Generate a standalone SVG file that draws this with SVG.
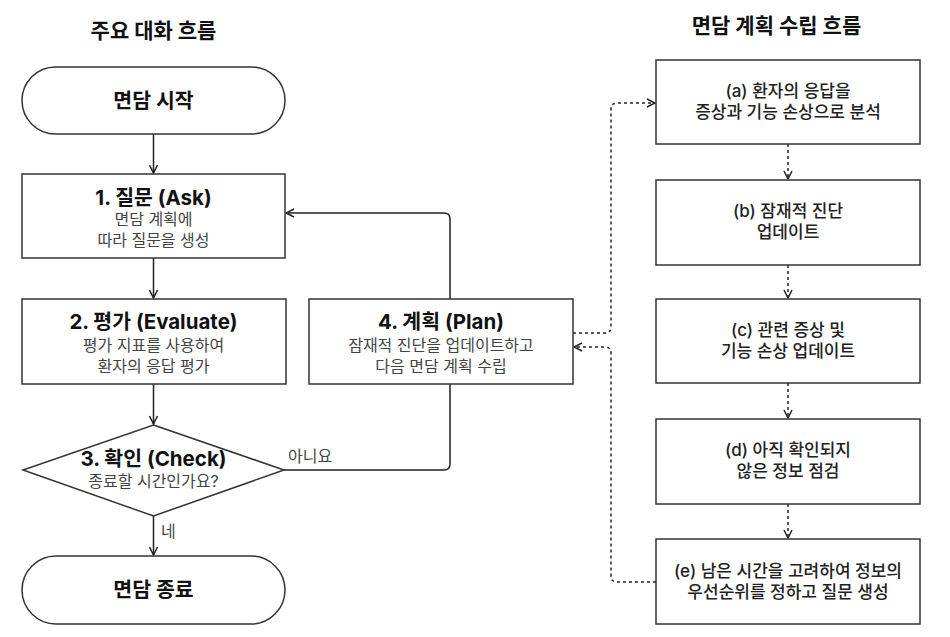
<svg xmlns="http://www.w3.org/2000/svg" width="950" height="637" viewBox="0 0 950 637">
<defs>
<style>
text{font-family:Inter,"Noto Sans CJK KR",sans-serif;text-anchor:middle;}
.h{font-size:21px;font-weight:700;fill:#111;}
.t{font-size:20.5px;font-weight:700;fill:#111;}
.s{font-size:16px;font-weight:400;fill:#444;}
.r{font-size:17px;font-weight:500;fill:#222;}
.lbl{font-size:16px;fill:#444;text-anchor:start;}
.box{fill:#fff;stroke:#333;stroke-width:1.5;}
.ln{fill:none;stroke:#222;stroke-width:1.5;}
.dl{fill:none;stroke:#222;stroke-width:1.5;stroke-dasharray:3 3;}
</style>
<marker id="ah" viewBox="0 0 10 10" refX="9" refY="5" markerWidth="10" markerHeight="10" markerUnits="userSpaceOnUse" orient="auto">
<path d="M1,1 L9,5 L1,9" fill="none" stroke="#222" stroke-width="1.5"/>
</marker>
</defs>
<rect width="950" height="637" fill="#fff"/>
<text class="h" x="153.5" y="38">주요 대화 흐름</text>
<text class="h" x="776.5" y="33">면담 계획 수립 흐름</text>

<g id="connectors">
<path class="ln" d="M153.5,134 V173" marker-end="url(#ah)"/>
<path class="ln" d="M153.5,258 V298" marker-end="url(#ah)"/>
<path class="ln" d="M153.5,384 V424" marker-end="url(#ah)"/>
<path class="ln" d="M153.5,516 V555" marker-end="url(#ah)"/>
<path class="ln" d="M284,470 H444 Q450,470 450,464 V384"/>
<path class="ln" d="M450,299 V219 Q450,213 444,213 H286" marker-end="url(#ah)"/>
<path class="dl" d="M573,333 H605 Q611,333 611,327 V109 Q611,103 617,103 H655" marker-end="url(#ah)"/>
<path class="dl" d="M656,582 H617 Q611,582 611,576 V353 Q611,347 605,347 H574" marker-end="url(#ah)"/>
<path class="dl" d="M788,144 V179" marker-end="url(#ah)"/>
<path class="dl" d="M788,265 V298" marker-end="url(#ah)"/>
<path class="dl" d="M788,383 V418" marker-end="url(#ah)"/>
<path class="dl" d="M788,504 V538" marker-end="url(#ah)"/>
</g>

<g id="start">
<rect class="box" x="22" y="67" width="263" height="67" rx="33.5"/>
<text class="t" x="153.5" y="108">면담 시작</text>
</g>
<g id="ask">
<rect class="box" x="22" y="174" width="263" height="84"/>
<text class="t" x="153.5" y="205">1. 질문 (Ask)</text>
<text class="s" x="153.5" y="225">면담 계획에</text>
<text class="s" x="153.5" y="246">따라 질문을 생성</text>
</g>
<g id="evaluate">
<rect class="box" x="22" y="299" width="264" height="85"/>
<text class="t" x="153.5" y="329">2. 평가 (Evaluate)</text>
<text class="s" x="153.5" y="351">평가 지표를 사용하여</text>
<text class="s" x="153.5" y="372">환자의 응답 평가</text>
</g>
<g id="check">
<polygon class="box" points="153.5,425 284,470 153.5,516 23,470"/>
<text class="t" x="153.5" y="466">3. 확인 (Check)</text>
<text class="s" x="153.5" y="487">종료할 시간인가요?</text>
</g>
<g id="end">
<rect class="box" x="22" y="556" width="263" height="68" rx="34"/>
<text class="t" x="153.5" y="597">면담 종료</text>
</g>
<g id="plan">
<rect class="box" x="309" y="299" width="264" height="85"/>
<text class="t" x="441" y="329">4. 계획 (Plan)</text>
<text class="s" x="441" y="351">잠재적 진단을 업데이트하고</text>
<text class="s" x="441" y="372">다음 면담 계획 수립</text>
</g>
<g id="labels">
<text class="lbl" x="288" y="462">아니요</text>
<text class="lbl" x="161" y="537">네</text>
</g>
<g id="a">
<rect class="box" x="656" y="60" width="264" height="84"/>
<text class="r" x="788" y="97">(a) 환자의 응답을</text>
<text class="r" x="788" y="118">증상과 기능 손상으로 분석</text>
</g>
<g id="b">
<rect class="box" x="656" y="180" width="264" height="85"/>
<text class="r" x="788" y="217">(b) 잠재적 진단</text>
<text class="r" x="788" y="238">업데이트</text>
</g>
<g id="c">
<rect class="box" x="656" y="299" width="264" height="84"/>
<text class="r" x="788" y="336">(c) 관련 증상 및</text>
<text class="r" x="788" y="357">기능 손상 업데이트</text>
</g>
<g id="d">
<rect class="box" x="656" y="419" width="264" height="85"/>
<text class="r" x="788" y="456">(d) 아직 확인되지</text>
<text class="r" x="788" y="477">않은 정보 점검</text>
</g>
<g id="e">
<rect class="box" x="656" y="539" width="264" height="85"/>
<text class="r" x="788" y="577">(e) 남은 시간을 고려하여 정보의</text>
<text class="r" x="788" y="598">우선순위를 정하고 질문 생성</text>
</g>
</svg>
